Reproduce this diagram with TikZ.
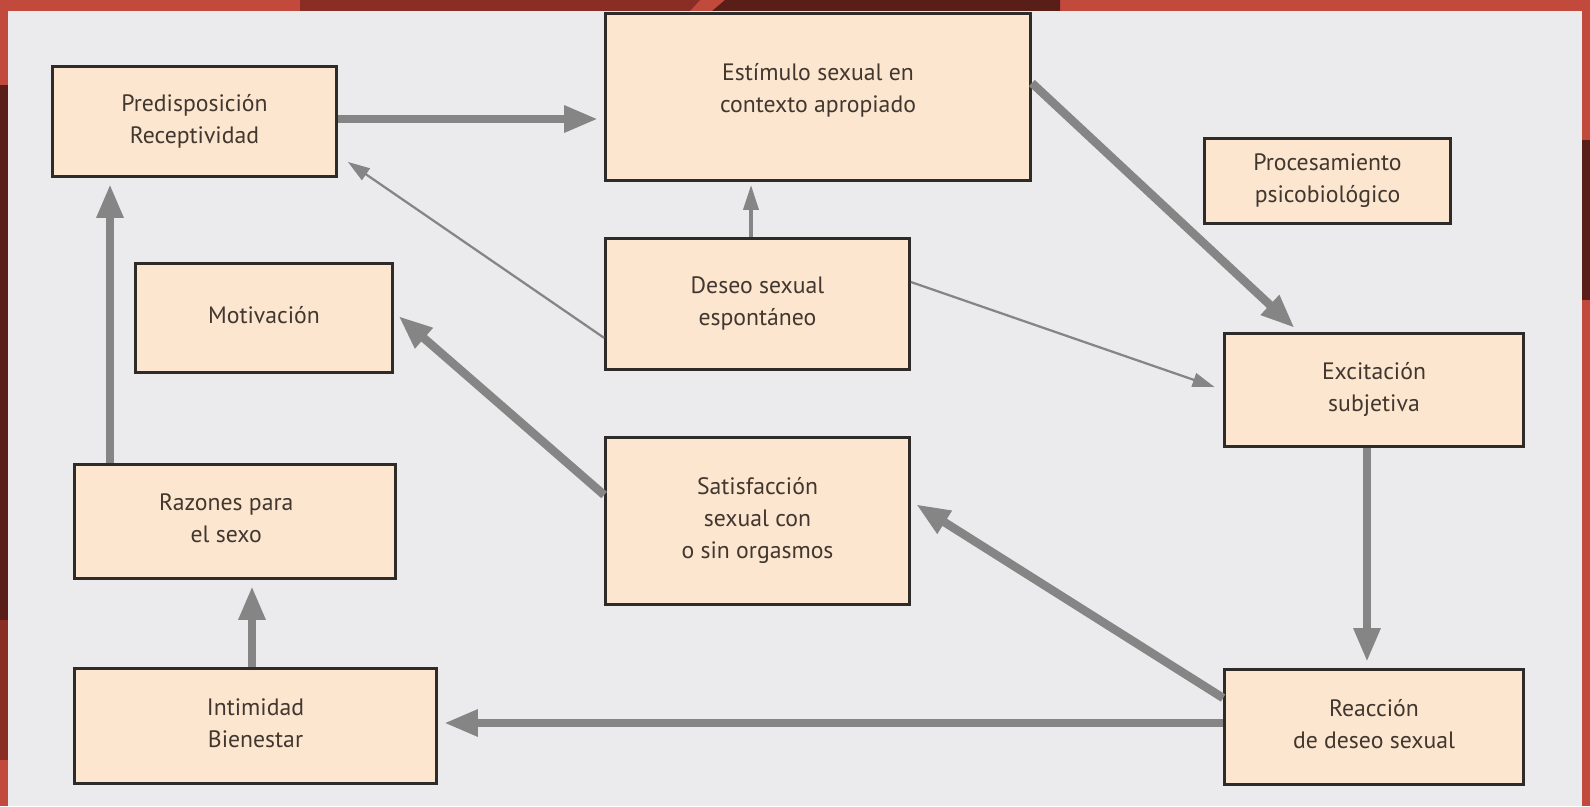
\documentclass[tikz,border=0pt]{standalone}
\usepackage{fontspec}
\setmainfont{PT Sans}
\usetikzlibrary{arrows.meta,calc}

\definecolor{marco}{HTML}{C24A3C}
\definecolor{marcoosc}{HTML}{5A1E19}
\definecolor{marcomed}{HTML}{8A2E25}
\definecolor{panel}{HTML}{EBEBED}
\definecolor{melocoton}{HTML}{FCE6CF}
\definecolor{borde}{HTML}{2E2B29}
\definecolor{flecha}{HTML}{858585}
\definecolor{texto}{HTML}{41372F}

\tikzset{
    caja/.style 2 args={draw=borde, line width=0.055cm, fill=melocoton, text=texto,
        align=center, inner sep=0pt, font=\fontsize{13.5}{18.2}\selectfont,
        minimum width=#1*0.02cm, minimum height=#2*0.02cm,
        execute at end node={\rule[-0.12cm]{0pt}{0pt}}},
    gruesa/.style={draw=flecha, line width=0.17cm, -{Triangle[length=0.68cm,width=0.5cm]}, shorten >=0.12cm},
    media/.style={draw=flecha, line width=0.08cm, -{Triangle[length=0.5cm,width=0.3cm]}, shorten >=0.06cm},
    fina/.style={draw=flecha, line width=0.045cm, -{Triangle[length=0.44cm,width=0.28cm]}}
}

\begin{document}
\begin{tikzpicture}[x=0.02cm, y=-0.02cm]

    \useasboundingbox (0,0) rectangle (1590,806);

    % fondo
    \fill[marco] (0,0) rectangle (1590,806);
    \fill[marcomed] (300,0) -- (700,0) -- (690,11) -- (300,11) -- cycle;
    \fill[marcoosc] (725,0) -- (1060,0) -- (1060,11) -- (712,11) -- cycle;
    \fill[marcoosc] (0,85) rectangle (8,620);
    \fill[marcomed] (0,620) rectangle (8,760);
    \fill[marcoosc] (1582,140) rectangle (1590,300);
    \fill[panel] (8,11) rectangle (1582,806);

    % cajas
    \node[caja={284}{110}] (pred) at (194.5,121.5) {Predisposición\\Receptividad};
    \node[caja={425}{167}] (estim) at (818,97) {Estímulo sexual en\\contexto apropiado\rule[-0.36cm]{0pt}{0pt}};
    \node[caja={246}{85}] (proc) at (1327.5,181) {Procesamiento\\psicobiológico};
    \node[caja={257}{109}] (motiv) at (264,318) {Motivación};
    \node[caja={304}{131}] (deseo) at (757.5,304) {Deseo sexual\\espontáneo};
    \node[caja={299}{113}] (excit) at (1374,390) {Excitación\\subjetiva};
    \node[caja={321}{114}] (razon) at (235,521.5) {Razones para\hspace*{0.35cm}\\el sexo\hspace*{0.35cm}};
    \node[caja={304}{167}] (satis) at (757.5,521) {Satisfacción\\sexual con\\o sin orgasmos};
    \node[caja={362}{115}] (intim) at (255.5,726) {Intimidad\\Bienestar};
    \node[caja={299}{115}] (reacc) at (1374,727) {Reacción\\de deseo sexual};

    % flechas
    \draw[gruesa] ($(pred.east)+(0,-2.5)$) -- ($(estim.west)+(0,22)$);
    \draw[fina] ($(deseo.south west)+(0,-33)$) -- ($(pred.south east)+(10,-16)$);
    \draw[media] ($(deseo.north)+(-6.5,0)$) -- ($(estim.south)+(-67,0)$);
    \draw[gruesa] ($(estim.east)+(0,-14)$) -- ($(excit.north west)+(76,0)$);
    \draw[fina, shorten >=0.18cm] ($(deseo.east)+(0,-22)$) -- (excit.west);
    \draw[gruesa] ($(excit.south)+(-7,0)$) -- ($(reacc.north)+(-7,0)$);
    \draw[gruesa] ($(reacc.west)+(0,-29)$) -- ($(satis.east)+(0,-20)$);
    \draw[gruesa] ($(reacc.west)+(0,-4)$) -- ($(intim.east)+(0,-3)$);
    \draw[gruesa] ($(satis.west)+(0,-26)$) -- ($(motiv.east)+(0,-6)$);
    \draw[gruesa] ($(intim.north)+(-3.5,0)$) -- ($(razon.south)+(17,0)$);
    \draw[gruesa] ($(razon.north)+(-125,0)$) -- ($(pred.south)+(-84.5,0)$);

\end{tikzpicture}
\end{document}
